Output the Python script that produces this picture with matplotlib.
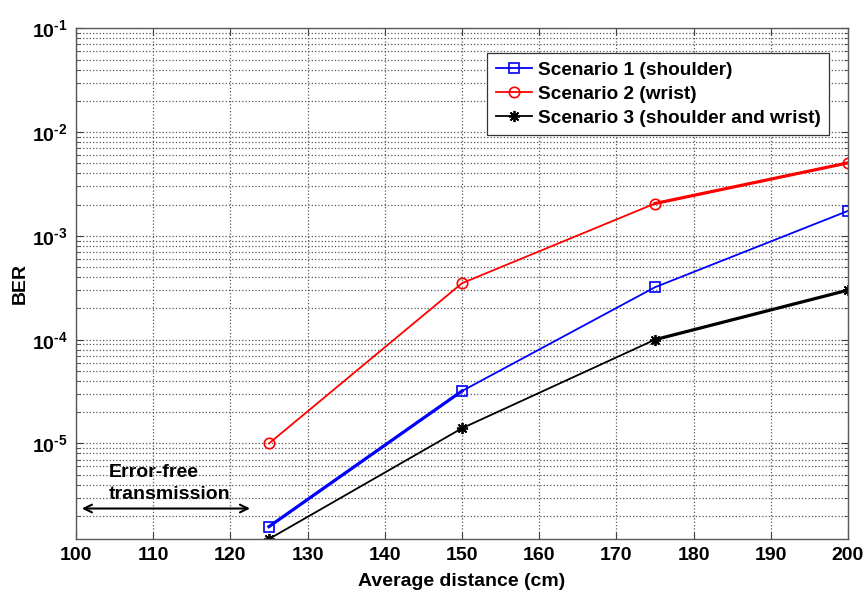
import numpy as np
import matplotlib
matplotlib.use('Agg')
import matplotlib.pyplot as plt
from matplotlib.ticker import LogLocator, NullFormatter, MultipleLocator, FuncFormatter

plt.rcParams['font.family'] = ['Liberation Sans', 'DejaVu Sans']
plt.rcParams['font.weight'] = 'bold'
plt.rcParams['mathtext.fontset'] = 'custom'
plt.rcParams['mathtext.rm'] = 'Liberation Sans:bold'
plt.rcParams['mathtext.bf'] = 'Liberation Sans:bold'
plt.rcParams['mathtext.default'] = 'rm'

# BER vs average distance for the three body placements
distance = [125, 150, 175, 200]
ber_shoulder = [1.58e-6, 3.2e-5, 3.2e-4, 1.74e-3]
ber_wrist = [1.0e-5, 3.5e-4, 2.05e-3, 5.05e-3]
ber_both = [1.2e-6, 1.4e-5, 1.0e-4, 3.0e-4]
labels = ['Scenario 1 (shoulder)', 'Scenario 2 (wrist)',
          'Scenario 3 (shoulder and wrist)']

FS = 14

def pow10_label(v, pos):
    e = int(round(np.log10(v)))
    # plain hyphen in the exponent instead of the mathtext minus
    return '$10^{\u2010%d}$' % abs(e) if e < 0 else '$10^{%d}$' % e

fig = plt.figure(figsize=(8.64, 5.94), dpi=100)
ax = fig.add_axes([76/864, 55/594, 772/864, 510.7/594])

ax.semilogy(distance, ber_shoulder, 'b-s', lw=1.3, ms=7, mfc='none', mew=1.2, label=labels[0])
ax.semilogy(distance, ber_wrist, 'r-o', lw=1.3, ms=7.5, mfc='none', mew=1.2, label=labels[1])
ax.semilogy(distance, ber_both, 'k-', marker=(8, 2, 0), lw=1.3, ms=8, mew=1.3, label=labels[2])

# a few segments come out heavier
ax.semilogy(distance[0:2], ber_shoulder[0:2], 'b-', lw=2.3)
ax.semilogy(distance[2:4], ber_wrist[2:4], 'r-', lw=2.3)
ax.semilogy(distance[2:4], ber_both[2:4], 'k-', lw=2.3)

ax.set_xlim(100, 200)
ax.set_ylim(1.2e-6, 1e-1)
ax.xaxis.set_major_locator(MultipleLocator(10))
ax.yaxis.set_major_locator(LogLocator(base=10, numticks=20))
ax.yaxis.set_major_formatter(FuncFormatter(pow10_label))
ax.yaxis.set_minor_locator(LogLocator(base=10, subs=np.arange(2, 10), numticks=20))
ax.yaxis.set_minor_formatter(NullFormatter())

ax.grid(True, which='major', ls=':', color='0.35', lw=0.9)
ax.grid(True, which='minor', axis='y', ls=':', color='0.35', lw=0.9)
ax.tick_params(which='both', direction='in', top=True, right=True, color='0.25',
               labelsize=FS, pad=6)
ax.tick_params(which='major', length=5)
ax.tick_params(which='minor', length=3)
for s in ax.spines.values():
    s.set_color('0.35')
    s.set_linewidth(1.0)

ax.set_xlabel('Average distance (cm)', fontsize=FS, fontweight='bold', labelpad=6)
ax.set_ylabel('BER', fontsize=FS, fontweight='bold', labelpad=2)

# error-free region marker
ax.annotate('', xy=(100.4, 2.36e-6), xytext=(122.9, 2.36e-6),
            arrowprops=dict(arrowstyle='<->', color='k', lw=1.5, mutation_scale=14))
ax.text(104.2, 4.15e-6, 'Error-free\ntransmission', ha='left', va='center',
        fontsize=FS, fontweight='bold', linespacing=1.38)

leg = ax.legend(loc='upper right', bbox_to_anchor=(0.9754, 0.952), borderaxespad=0,
                fancybox=False, framealpha=1, edgecolor='0.2', fontsize=13.7,
                handlelength=1.9, handletextpad=0.3, borderpad=0.45, labelspacing=0.35)
leg.get_frame().set_linewidth(0.9)

fig.savefig('out.png', dpi=100)
